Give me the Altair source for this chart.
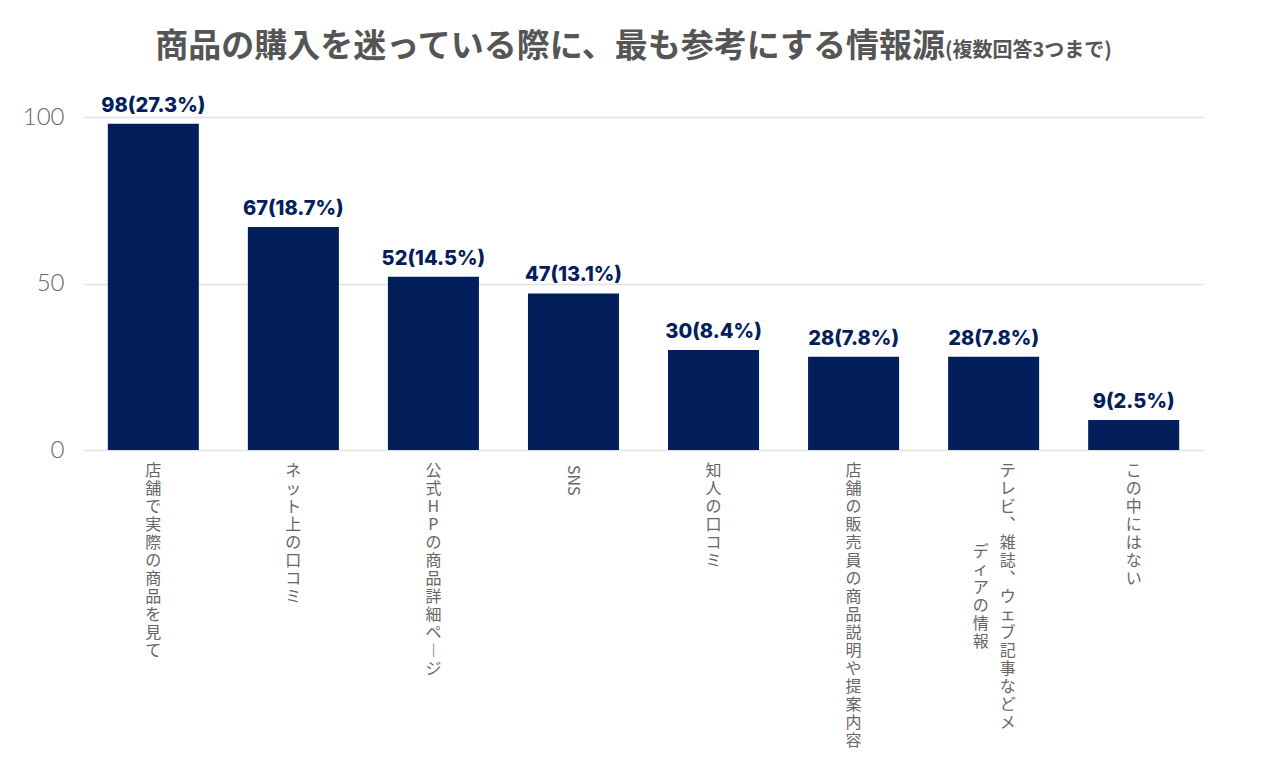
import altair as alt
import pandas as pd

categories = [
    "店舗で実際の商品を見て",
    "ネット上の口コミ",
    "公式HPの商品詳細ページ",
    "SNS",
    "知人の口コミ",
    "店舗の販売員の商品説明や提案内容",
    "テレビ、雑誌、ウェブ記事などメディアの情報",
    "この中にはない",
]
counts = [98, 67, 52, 47, 30, 28, 28, 9]
percents = [27.3, 18.7, 14.5, 13.1, 8.4, 7.8, 7.8, 2.5]
y_ticks = [0, 50, 100]

title_main = "商品の購入を迷っている際に、最も参考にする情報源"
title_sub = "(複数回答3つまで)"

NAVY = "#021f5c"
GRAY = "#666666"
W, H = 1119, 333
LH = 18
MAXLEN = 16   # longest label that still fits in one column
WRAPAT = 15   # column length once a label wraps
VERT = {"ー": "︱", "、": "︑"}

df = pd.DataFrame({
    "cat": categories,
    "n": counts,
    "pct": percents,
})
df["label"] = [f"{n}({p}%)" for n, p in zip(counts, percents)]

# vertical-writing label columns
rows = []
col2_off = 0
for c in categories:
    if c.isascii():
        rows.append({"cat": c, "text": c, "kind": "latin"})
        continue
    if len(c) <= MAXLEN:
        cols = [c]
    else:
        cols = [c[i:i + WRAPAT] for i in range(0, len(c), WRAPAT)]
        col2_off = (len(cols[0]) - len(cols[1])) * LH / 2
    for j, col in enumerate(cols):
        txt = "\n".join(VERT.get(ch, ch) for ch in col)
        kind = "single" if len(cols) == 1 else f"col{j + 1}"
        rows.append({"cat": c, "text": txt, "kind": kind})
lab = pd.DataFrame(rows)

xscale = alt.Scale(domain=categories, paddingInner=0.35, paddingOuter=0.17)
x = alt.X("cat:N", sort=categories, scale=xscale, axis=None)

base = alt.Chart(df)

bars = base.mark_bar(color=NAVY).encode(
    x=x,
    y=alt.Y("n:Q", scale=alt.Scale(domain=[0, 100], nice=False),
            axis=alt.Axis(values=y_ticks, title=None, domain=False, ticks=False,
                          labelFont="Lato", labelFontWeight=300, labelFontSize=24,
                          labelColor=GRAY, labelPadding=20, gridColor="#e2e2e2",
                          gridWidth=1.5)),
)

vals = base.mark_text(font="Inter", fontWeight=800, fontSize=20, color=NAVY,
                      baseline="alphabetic", dy=-12).encode(
    x=x, y="n:Q", text="label:N")

labbase = alt.Chart(lab)
common = dict(font="Noto Sans CJK JP", fontSize=16, color=GRAY, lineBreak="\n",
              lineHeight=LH, baseline="top", align="center")

lab_single = labbase.transform_filter("datum.kind == 'single'").mark_text(**common).encode(
    x=x, y=alt.value(H + 13), text="text:N")
lab_c1 = labbase.transform_filter("datum.kind == 'col1'").mark_text(dx=14, **common).encode(
    x=x, y=alt.value(H + 13), text="text:N")
lab_c2 = labbase.transform_filter("datum.kind == 'col2'").mark_text(dx=-13, **common).encode(
    x=x, y=alt.value(H + 13 + col2_off), text="text:N")
lab_latin = labbase.transform_filter("datum.kind == 'latin'").mark_text(
    font="Noto Sans CJK JP", fontSize=16, color=GRAY, angle=90, align="left",
    baseline="middle").encode(x=x, y=alt.value(H + 15), text="text:N")

tdf = pd.DataFrame({"t": [title_main], "s": [title_sub]})
t_main = alt.Chart(tdf).mark_text(font="Noto Sans CJK JP", fontWeight="bold", fontSize=33,
                                  color="#555555", align="right", baseline="alphabetic").encode(
    x=alt.value(861), y=alt.value(-60), text="t:N")
t_sub = alt.Chart(tdf).mark_text(font="Noto Sans CJK JP", fontWeight="bold", fontSize=20,
                                 color="#555555", align="left", baseline="alphabetic").encode(
    x=alt.value(861), y=alt.value(-60), text="s:N")

chart = alt.layer(bars, vals, lab_single, lab_c1, lab_c2, lab_latin, t_main, t_sub).properties(
    width=W, height=H,
    autosize=alt.AutoSizeParams(type="none"),
    padding={"left": 76, "top": 109, "right": 60, "bottom": 300},
).configure_view(stroke=None)

chart.save("out.html", embed_options={"renderer": "svg", "actions": False})
